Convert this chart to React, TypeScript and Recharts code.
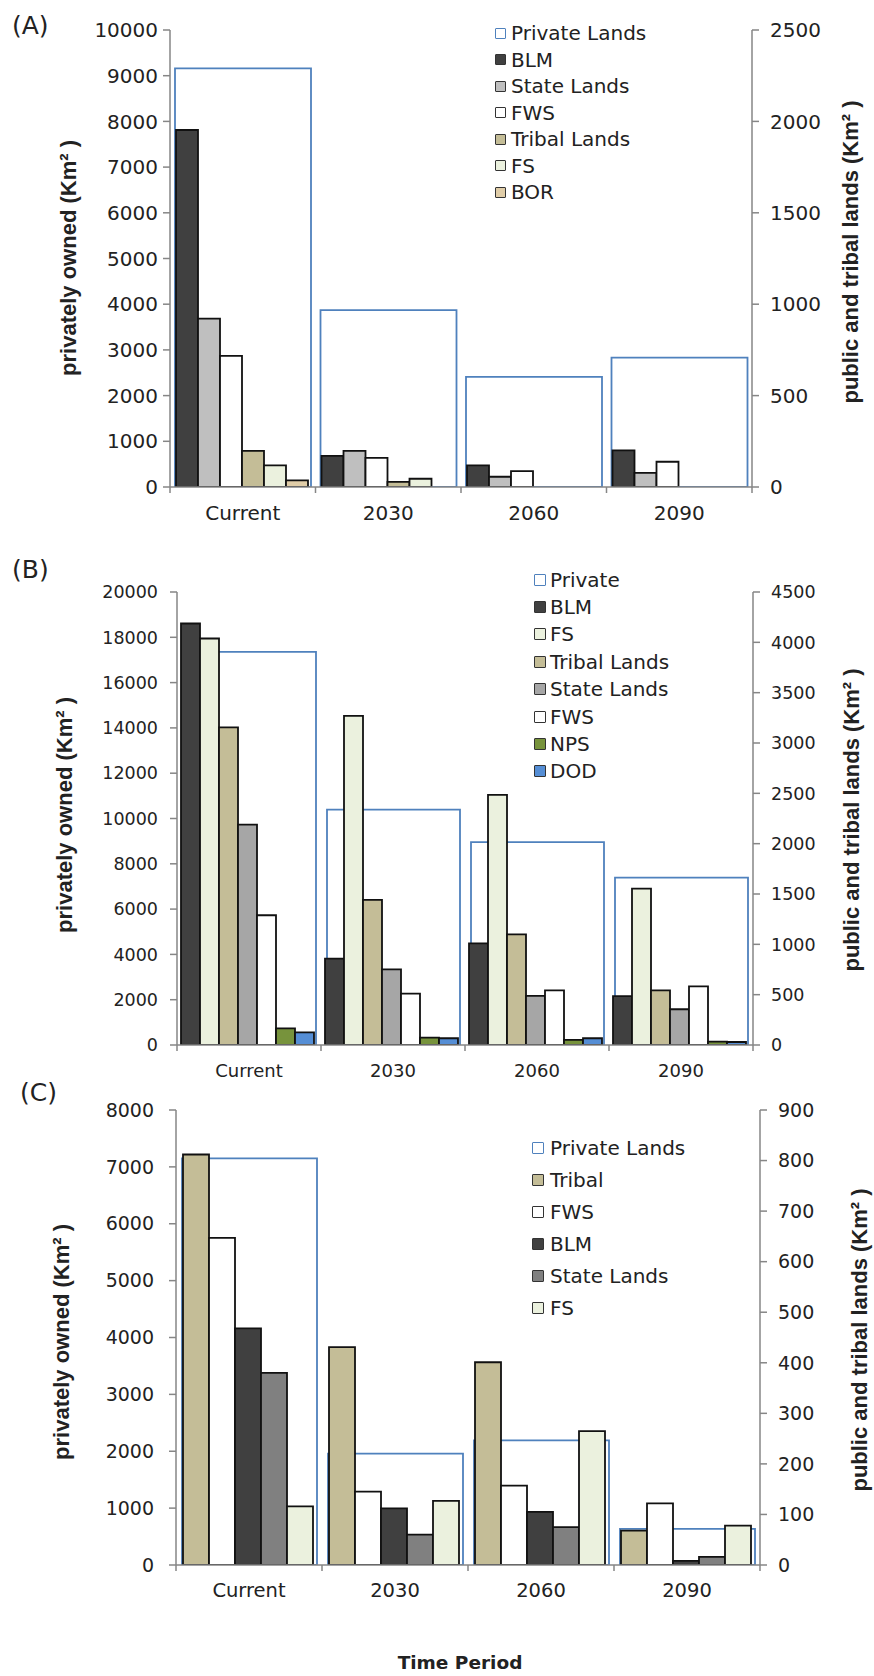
import React from 'react';
import { BarChart, Bar, XAxis, YAxis, Legend } from 'recharts';

// ---------- shared ----------
const periods = ['Current', '2030', '2060', '2090'];

// ---------- Panel A (private: left axis km², others: right axis km²) ----------
const aPrivate = [9160, 3870, 2410, 2830];
const aBLM = [1953, 170, 118, 200];
const aState = [921, 198, 56, 77];
const aFWS = [717, 159, 87, 138];
const aTribal = [198, 28, 0, 0];
const aFS = [118, 45, 0, 0];
const aBOR = [36, 0, 0, 0];
const aLeftTicks = [0, 1000, 2000, 3000, 4000, 5000, 6000, 7000, 8000, 9000, 10000];
const aRightTicks = [0, 500, 1000, 1500, 2000, 2500];

// ---------- Panel B ----------
const bPrivate = [17360, 10390, 8960, 7390];
const bBLM = [4187, 858, 1010, 485];
const bFS = [4038, 3270, 2485, 1554];
const bTribal = [3155, 1442, 1099, 543];
const bState = [2189, 751, 488, 355];
const bFWS = [1289, 510, 542, 582];
const bNPS = [165, 73, 50, 33];
const bDOD = [125, 67, 67, 30];
const bLeftTicks = [0, 2000, 4000, 6000, 8000, 10000, 12000, 14000, 16000, 18000, 20000];
const bRightTicks = [0, 500, 1000, 1500, 2000, 2500, 3000, 3500, 4000, 4500];

// ---------- Panel C ----------
const cPrivate = [7150, 1960, 2190, 634];
const cTribal = [812, 431, 401, 68];
const cFWS = [647, 145, 157, 122];
const cBLM = [468, 112, 105, 8];
const cState = [380, 60, 75, 16];
const cFS = [116, 127, 265, 78];
const cLeftTicks = [0, 1000, 2000, 3000, 4000, 5000, 6000, 7000, 8000];
const cRightTicks = [0, 100, 200, 300, 400, 500, 600, 700, 800, 900];

// ---------- styles ----------
const AXIS = '#868686';
const TEXT = '#222222';
const PRIVATE_STROKE = '#4f81bd';
const FONT = '"DejaVu Sans", sans-serif';
const TITLE_FONT = '"Liberation Sans", Arial, sans-serif';

const C_BLM = '#404040';
const C_FWS = '#ffffff';
const C_TRIBAL = '#c4bd97';
const C_FS = '#ebf1de';
const C_BOR = '#e0cda8';
const C_NPS = '#77933c';
const C_DOD = '#558ed5';

type Series = { key: string; name: string; values: number[]; fill: string };

function buildRows(privateVals: number[], series: Series[]) {
  return periods.map((p, i) => {
    const row: Record<string, any> = { period: p, private: privateVals[i] };
    series.forEach((s) => {
      row[s.key] = s.values[i];
    });
    return row;
  });
}

const seriesA: Series[] = [
  { key: 'blm', name: 'BLM', values: aBLM, fill: C_BLM },
  { key: 'state', name: 'State Lands', values: aState, fill: '#bfbfbf' },
  { key: 'fws', name: 'FWS', values: aFWS, fill: C_FWS },
  { key: 'tribal', name: 'Tribal Lands', values: aTribal, fill: C_TRIBAL },
  { key: 'fs', name: 'FS', values: aFS, fill: C_FS },
  { key: 'bor', name: 'BOR', values: aBOR, fill: C_BOR },
];
const seriesB: Series[] = [
  { key: 'blm', name: 'BLM', values: bBLM, fill: C_BLM },
  { key: 'fs', name: 'FS', values: bFS, fill: C_FS },
  { key: 'tribal', name: 'Tribal Lands', values: bTribal, fill: C_TRIBAL },
  { key: 'state', name: 'State Lands', values: bState, fill: '#a6a6a6' },
  { key: 'fws', name: 'FWS', values: bFWS, fill: C_FWS },
  { key: 'nps', name: 'NPS', values: bNPS, fill: C_NPS },
  { key: 'dod', name: 'DOD', values: bDOD, fill: C_DOD },
];
const seriesC: Series[] = [
  { key: 'tribal', name: 'Tribal', values: cTribal, fill: C_TRIBAL },
  { key: 'fws', name: 'FWS', values: cFWS, fill: C_FWS },
  { key: 'blm', name: 'BLM', values: cBLM, fill: C_BLM },
  { key: 'state', name: 'State Lands', values: cState, fill: '#808080' },
  { key: 'fs', name: 'FS', values: cFS, fill: C_FS },
];

type PanelCfg = {
  top: number;
  height: number;
  marginTop: number;
  marginBottom: number;
  leftW: number;
  rightW: number;
  tickFont: number;
  catFont: number;
  leftTickMargin: number;
  rightTickMargin: number;
  labelDy: number;
  privateBarSize: number;
  catGap: number;
  legendLeft: number;
  legendTop: number;
  legendRow: number;
  legendIcon: number;
  legendGap: number;
  privateName: string;
  privateVals: number[];
  series: Series[];
  leftTicks: number[];
  rightTicks: number[];
};

const WIDTH = 874;
const XAXIS_H = 40;

const CategoryTick = (props: any) => {
  const { x, y, payload, half, fontSize, labelDy, count } = props;
  const idx = props.index ?? payload?.index ?? 0;
  return (
    <g>
      <line x1={x - half} x2={x - half} y1={y} y2={y + 6} stroke={AXIS} strokeWidth={1.5} />
      {idx === count - 1 && (
        <line x1={x + half} x2={x + half} y1={y} y2={y + 6} stroke={AXIS} strokeWidth={1.5} />
      )}
      <text
        x={x}
        y={y + labelDy}
        textAnchor="middle"
        dominantBaseline="central"
        fontSize={fontSize}
        fontFamily={FONT}
        fill={TEXT}
      >
        {payload.value}
      </text>
    </g>
  );
};

const LegendBox = ({ cfg }: { cfg: PanelCfg }) => {
  const items = [
    { name: cfg.privateName, fill: '#ffffff', border: PRIVATE_STROKE },
    ...cfg.series.map((s) => ({ name: s.name, fill: s.fill, border: '#333333' })),
  ];
  return (
    <div style={{ fontFamily: FONT, fontSize: 20, color: TEXT }}>
      {items.map((it) => (
        <div
          key={it.name}
          style={{ display: 'flex', alignItems: 'center', height: cfg.legendRow, whiteSpace: 'nowrap' }}
        >
          <span
            style={{
              display: 'inline-block',
              width: cfg.legendIcon,
              height: cfg.legendIcon,
              boxSizing: 'border-box',
              border: `1.5px solid ${it.border}`,
              background: it.fill,
              marginRight: cfg.legendGap,
              borderRadius: 1,
            }}
          />
          <span>{it.name}</span>
        </div>
      ))}
    </div>
  );
};

const Panel = ({ cfg }: { cfg: PanelCfg }) => {
  const rows = buildRows(cfg.privateVals, cfg.series);
  const plotW = WIDTH - cfg.leftW - cfg.rightW;
  const half = plotW / periods.length / 2;
  const leftMax = cfg.leftTicks[cfg.leftTicks.length - 1];
  const rightMax = cfg.rightTicks[cfg.rightTicks.length - 1];
  const tickStyle = { fontSize: cfg.tickFont, fill: TEXT, fontFamily: FONT };
  return (
    <div style={{ position: 'absolute', left: 0, top: cfg.top }}>
      <BarChart
        width={WIDTH}
        height={cfg.height}
        data={rows}
        margin={{ top: cfg.marginTop, right: 0, bottom: cfg.marginBottom, left: 0 }}
        barGap={0}
        barCategoryGap={cfg.catGap}
      >
        <XAxis xAxisId="priv" dataKey="period" hide />
        <XAxis
          xAxisId="main"
          dataKey="period"
          height={XAXIS_H}
          interval={0}
          tickLine={false}
          tickSize={0}
          tickMargin={0}
          axisLine={{ stroke: AXIS, strokeWidth: 1.5 }}
          tick={(p: any) => (
            <CategoryTick
              {...p}
              half={half}
              fontSize={cfg.catFont}
              labelDy={cfg.labelDy}
              count={periods.length}
            />
          )}
        />
        <YAxis
          yAxisId="left"
          orientation="left"
          width={cfg.leftW}
          domain={[0, leftMax]}
          ticks={cfg.leftTicks}
          interval={0}
          allowDataOverflow
          tick={tickStyle}
          tickSize={7}
          tickMargin={cfg.leftTickMargin}
          tickLine={{ stroke: AXIS, strokeWidth: 1.5 }}
          axisLine={{ stroke: AXIS, strokeWidth: 1.5 }}
        />
        <YAxis
          yAxisId="right"
          orientation="right"
          width={cfg.rightW}
          domain={[0, rightMax]}
          ticks={cfg.rightTicks}
          interval={0}
          allowDataOverflow
          tick={tickStyle}
          tickSize={7}
          tickMargin={cfg.rightTickMargin}
          tickLine={{ stroke: AXIS, strokeWidth: 1.5 }}
          axisLine={{ stroke: AXIS, strokeWidth: 1.5 }}
        />
        <Bar
          xAxisId="priv"
          yAxisId="left"
          dataKey="private"
          name={cfg.privateName}
          barSize={cfg.privateBarSize}
          fill="#ffffff"
          fillOpacity={0}
          stroke={PRIVATE_STROKE}
          strokeWidth={1.8}
          isAnimationActive={false}
        />
        {cfg.series.map((s) => (
          <Bar
            key={s.key}
            xAxisId="main"
            yAxisId="right"
            dataKey={s.key}
            name={s.name}
            fill={s.fill}
            stroke="#111111"
            strokeWidth={1.8}
            isAnimationActive={false}
          />
        ))}
        <Legend
          layout="vertical"
          align="center"
          verticalAlign="middle"
          wrapperStyle={{ left: cfg.legendLeft, top: cfg.legendTop, width: 'auto', height: 'auto' }}
          content={() => <LegendBox cfg={cfg} />}
        />
      </BarChart>
    </div>
  );
};

const panelA: PanelCfg = {
  top: 0,
  height: 540,
  marginTop: 30,
  marginBottom: 13,
  leftW: 170,
  rightW: 122,
  tickFont: 20,
  catFont: 20,
  leftTickMargin: 5,
  rightTickMargin: 11,
  labelDy: 26,
  privateBarSize: 136,
  catGap: 6,
  legendLeft: 495,
  legendTop: 20,
  legendRow: 26.5,
  legendIcon: 11,
  legendGap: 5,
  privateName: 'Private Lands',
  privateVals: aPrivate,
  series: seriesA,
  leftTicks: aLeftTicks,
  rightTicks: aRightTicks,
};

const panelB: PanelCfg = {
  top: 545,
  height: 555,
  marginTop: 47,
  marginBottom: 15,
  leftW: 177,
  rightW: 121,
  tickFont: 17.5,
  catFont: 18,
  leftTickMargin: 12,
  rightTickMargin: 11,
  labelDy: 25,
  privateBarSize: 133,
  catGap: 4,
  legendLeft: 534,
  legendTop: 21,
  legendRow: 27.4,
  legendIcon: 12,
  legendGap: 4,
  privateName: 'Private',
  privateVals: bPrivate,
  series: seriesB,
  leftTicks: bLeftTicks,
  rightTicks: bRightTicks,
};

const panelC: PanelCfg = {
  top: 1100,
  height: 576,
  marginTop: 10,
  marginBottom: 71,
  leftW: 176,
  rightW: 114,
  tickFont: 19,
  catFont: 19.5,
  leftTickMargin: 15,
  rightTickMargin: 11,
  labelDy: 25,
  privateBarSize: 135,
  catGap: 7,
  legendLeft: 532,
  legendTop: 32,
  legendRow: 32,
  legendIcon: 12,
  legendGap: 6,
  privateName: 'Private Lands',
  privateVals: cPrivate,
  series: seriesC,
  leftTicks: cLeftTicks,
  rightTicks: cRightTicks,
};

const VTitle = ({ x, y, children }: { x: number; y: number; children: React.ReactNode }) => (
  <text
    x={x}
    y={y}
    transform={`rotate(-90 ${x} ${y})`}
    textAnchor="middle"
    dominantBaseline="central"
    fontFamily={TITLE_FONT}
    fontWeight="bold"
    fontSize={22}
    fill={TEXT}
  >
    {children}
  </text>
);

const PanelLetter = ({ x, y, children }: { x: number; y: number; children: React.ReactNode }) => (
  <text x={x} y={y} dominantBaseline="central" fontFamily={FONT} fontSize={25} fill={TEXT}>
    {children}
  </text>
);

export default function App() {
  return (
    <div
      style={{
        position: 'absolute',
        left: 0,
        top: 0,
        width: WIDTH,
        height: 1676,
        background: '#ffffff',
        overflow: 'hidden',
      }}
    >
      <Panel cfg={panelA} />
      <Panel cfg={panelB} />
      <Panel cfg={panelC} />
      <svg
        width={WIDTH}
        height={1676}
        style={{ position: 'absolute', left: 0, top: 0, pointerEvents: 'none' }}
      >
        <PanelLetter x={12} y={25}>(A)</PanelLetter>
        <PanelLetter x={12} y={569}>(B)</PanelLetter>
        <PanelLetter x={20} y={1092}>(C)</PanelLetter>

        <VTitle x={68} y={258}>privately owned (Km² )</VTitle>
        <VTitle x={64} y={815}>privately owned (Km² )</VTitle>
        <VTitle x={61} y={1342}>privately owned (Km² )</VTitle>

        <VTitle x={850} y={252}>public and tribal lands (Km² )</VTitle>
        <VTitle x={851} y={820}>public and tribal lands (Km² )</VTitle>
        <VTitle x={859} y={1340}>public and tribal lands (Km² )</VTitle>

        <text
          x={460}
          y={1662}
          textAnchor="middle"
          dominantBaseline="central"
          fontFamily={FONT}
          fontWeight="bold"
          fontSize={18.5}
          fill={TEXT}
        >
          Time Period
        </text>
      </svg>
    </div>
  );
}
